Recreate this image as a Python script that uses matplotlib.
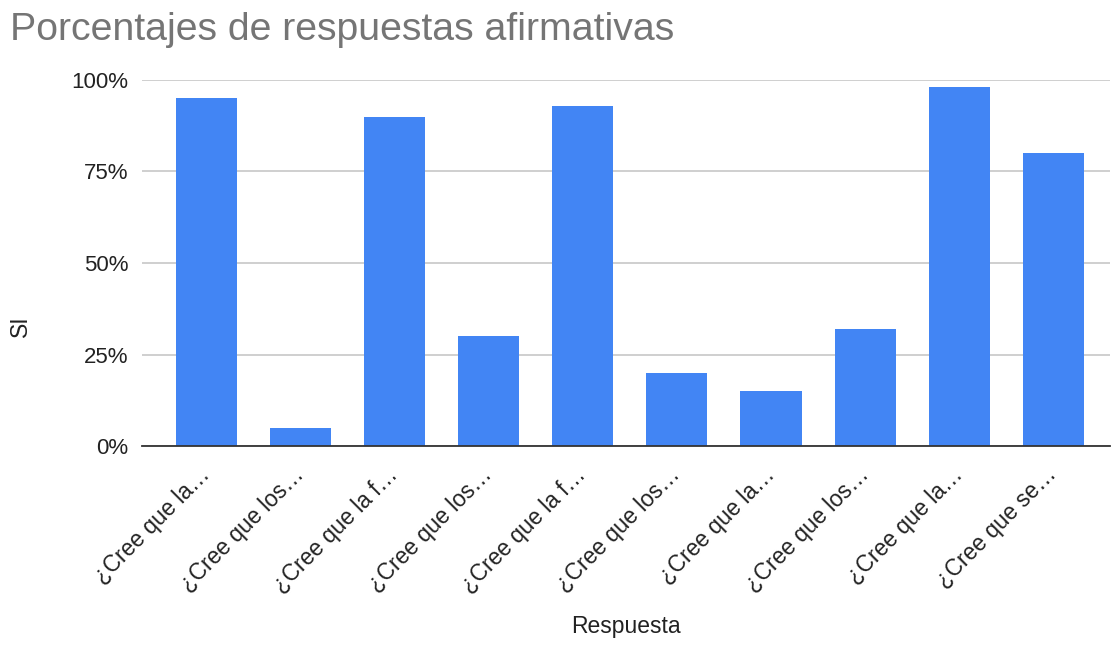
import matplotlib
matplotlib.use("Agg")
import matplotlib.pyplot as plt
from matplotlib.ticker import FuncFormatter

plt.rcParams['font.family'] = ['Liberation Sans', 'DejaVu Sans']

# data
categories = [
    "¿Cree que la…",
    "¿Cree que los…",
    "¿Cree que la f…",
    "¿Cree que los…",
    "¿Cree que la f…",
    "¿Cree que los…",
    "¿Cree que la…",
    "¿Cree que los…",
    "¿Cree que la…",
    "¿Cree que se…",
]
si_pct = [95, 5, 90, 30, 93, 20, 15, 32, 98, 80]
y_ticks = [0, 25, 50, 75, 100]

bar_color = '#4285f4'
text_dark = '#222222'

fig = plt.figure(figsize=(11.11, 6.45), dpi=100)
ax = fig.add_axes([0.128, 0.3085, 0.871, 0.5675])

x = list(range(len(categories)))
ax.bar(x, si_pct, width=0.65, color=bar_color, zorder=3)

ax.set_xlim(-0.68, 9.6)
ax.set_ylim(0, 100)
ax.set_yticks(y_ticks)
ax.yaxis.set_major_formatter(FuncFormatter(lambda v, p: f"{v:.0f}%"))
ax.grid(axis='y', color='#cccccc', linewidth=1.3, zorder=0)
ax.tick_params(axis='y', length=0, pad=10, labelsize=16, labelcolor=text_dark)

ax.set_xticks(x)
ax.set_xticklabels(categories, rotation=45, ha='right', va='center',
                   rotation_mode='anchor', fontsize=16.3, color=text_dark)
ax.tick_params(axis='x', length=0, pad=18)

for side in ['top', 'right', 'left']:
    ax.spines[side].set_visible(False)
ax.spines['bottom'].set_color('#333333')
ax.spines['bottom'].set_linewidth(1.3)
ax.spines['bottom'].set_zorder(4)

fig.text(0.009, 0.938, "Porcentajes de respuestas afirmativas", fontsize=28.3,
         color='#757575', ha='left', va='baseline')
fig.text(0.563, 0.018, "Respuesta", fontsize=16.5, color=text_dark,
         ha='center', va='baseline')
fig.text(0.018, 0.495, "SI", fontsize=16.5, color=text_dark, rotation=90,
         ha='center', va='center')

fig.savefig('out.png', dpi=100)
